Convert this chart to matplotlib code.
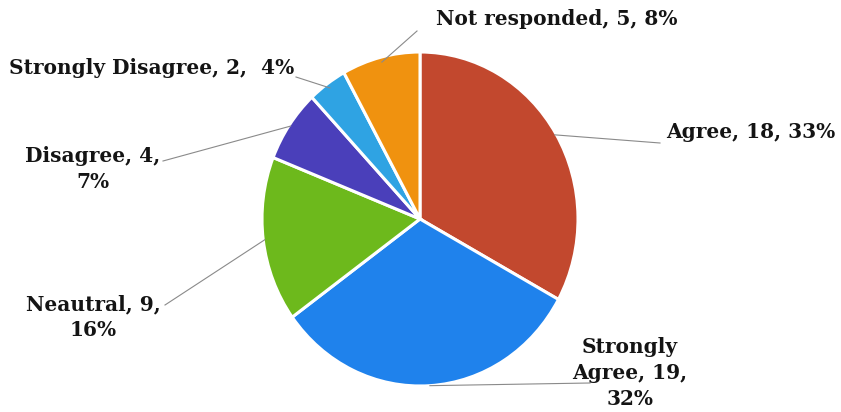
import numpy as np
import matplotlib.pyplot as plt

# Survey responses
categories = ["Agree", "Strongly Agree", "Neautral", "Disagree",
              "Strongly Disagree", "Not responded"]
counts = [18, 19, 9, 4, 2, 5]
percents = [33, 32, 16, 7, 4, 8]
labels = ["Agree, 18, 33%", "Strongly\nAgree, 19,\n32%", "Neautral, 9,\n16%",
          "Disagree, 4,\n7%", "Strongly Disagree, 2,  4%", "Not responded, 5, 8%"]
colors = ["#C2482E", "#1F82EC", "#6DB91C", "#4A3FBA", "#2FA3E3", "#F0920F"]

W, H = 841, 412
fig = plt.figure(figsize=(W / 100, H / 100), dpi=100)

# pie axes placed on its bounding box (slightly oval in the reference)
left, right, top, bottom = 262, 578, 52, 386
ax = fig.add_axes([left / W, (H - bottom) / H, (right - left) / W, (bottom - top) / H])
wedges, _ = ax.pie(percents, colors=colors, startangle=90, counterclock=False,
                   wedgeprops=dict(edgecolor="white", linewidth=2.2))
ax.set_aspect("auto")
ax.set_xlim(-1, 1)
ax.set_ylim(-1, 1)
ax.axis("off")

# label layout in pixel positions
layout = {
    "Agree": dict(xy=(666, 132), ha="left", end=(660, 143), r=0.99),
    "Strongly Agree": dict(xy=(630, 373), ha="center", end=(590, 383), r=1.0),
    "Neautral": dict(xy=(93, 317), ha="center", end=(165, 305), r=0.99),
    "Disagree": dict(xy=(93, 169), ha="center", end=(163, 161), r=0.99),
    "Strongly Disagree": dict(xy=(152, 68), ha="center", end=(296, 77), r=0.97),
    "Not responded": dict(xy=(436, 19), ha="left", end=(417, 31), r=0.97),
}

for w, cat, lab in zip(wedges, categories, labels):
    lay = layout[cat]
    mid = np.deg2rad((w.theta1 + w.theta2) / 2)
    px, py = ax.transData.transform((lay["r"] * np.cos(mid), lay["r"] * np.sin(mid)))
    ex, ey = lay["end"]
    fig.add_artist(plt.Line2D([px / W, ex / W], [py / H, (H - ey) / H],
                              transform=fig.transFigure, color="#8a8a8a", lw=0.8))
    fig.text(lay["xy"][0] / W, (H - lay["xy"][1]) / H, lab, ha=lay["ha"], va="center",
             fontsize=14.5, fontweight="bold", family="DejaVu Serif",
             color="#141414", linespacing=1.38, multialignment="center")

fig.savefig("out.png", dpi=100, facecolor="white")
